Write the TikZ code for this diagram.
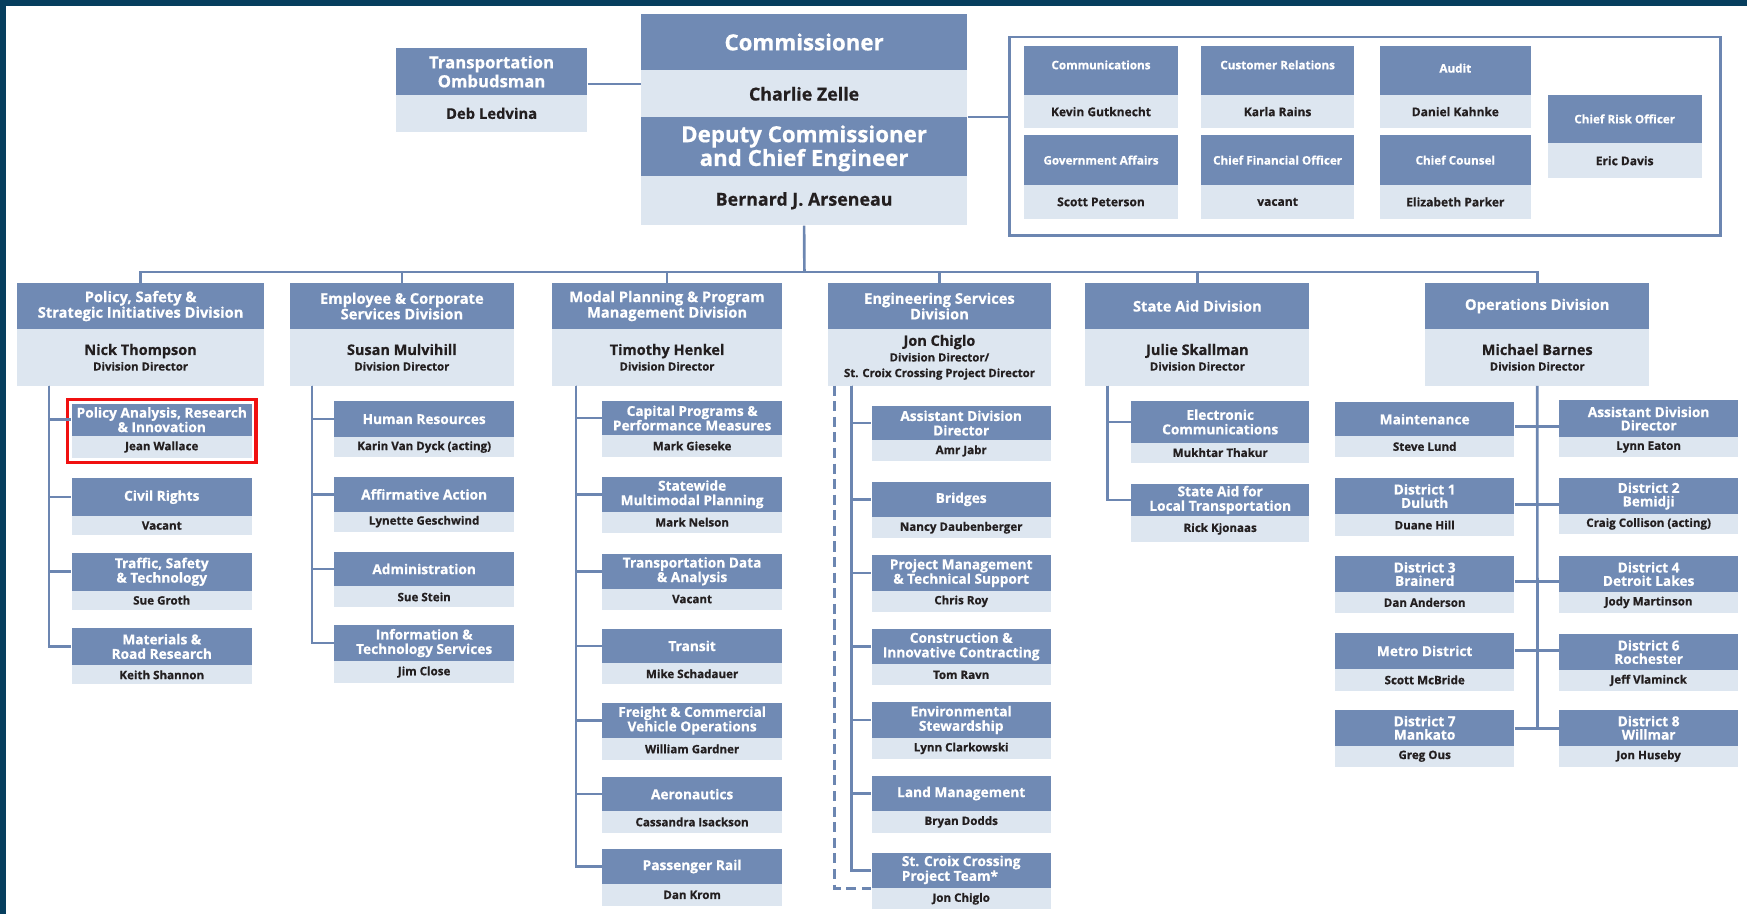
\documentclass[tikz,border=0pt]{standalone}
\usepackage{fontspec}
\setmainfont{Open Sans}[BoldFeatures={FakeBold=0.6}]
\usetikzlibrary{fit}
\definecolor{hdc}{RGB}{112,138,180}
\definecolor{bdc}{RGB}{221,230,240}
\definecolor{lnc}{RGB}{108,134,177}
\definecolor{navy}{RGB}{6,62,94}
\definecolor{txt}{RGB}{35,31,32}
\definecolor{hlred}{RGB}{240,16,16}
\newcommand\up[2]{\raisebox{#1}[\height][\depth]{#2}}
\newcommand\ob[8]{%
  \node[hd,minimum width={#3-#2},minimum height={#5-#4}] (#1-h) at (#2,#4) {#7};
  \node[bd,minimum width={#3-#2},minimum height={#6-#5}] (#1-b) at (#2,#5) {#8};
}
\tikzset{
  hd/.style={fill=hdc,text=white,inner sep=0pt,align=center,anchor=north west,
    font=\bfseries\fontsize{12.3}{13}\selectfont},
  bd/.style={fill=bdc,text=txt,inner sep=0pt,align=center,anchor=north west,
    font=\bfseries\fontsize{10.4}{11}\selectfont},
  ln/.style={draw=lnc,line width=2.4pt},
}
\begin{document}
\begin{tikzpicture}[x=1pt,y=-1pt]
\useasboundingbox (0,0) rectangle (1568,820);
\fill[navy] (0,0) rectangle (1568,5);
\fill[navy] (0,0) rectangle (5,820);

% top block
\node[hd,font=\bfseries\fontsize{20}{20}\selectfont,minimum width=293,minimum height=51] (com-h) at (575,12) {Commissioner};
\node[bd,font=\bfseries\fontsize{16}{16}\selectfont,minimum width=293,minimum height=42] (com-b) at (575,63) {Charlie Zelle};
\node[hd,font=\bfseries\fontsize{20}{20}\selectfont,minimum width=293,minimum height=53] (dep-h) at (575,105) {\up{-2pt}{\begin{tabular}{@{}c@{}}Deputy Commissioner\\and Chief Engineer\end{tabular}}};
\node[bd,font=\bfseries\fontsize{16}{16}\selectfont,minimum width=293,minimum height=44] (dep-b) at (575,158) {Bernard J. Arseneau};

\node[hd,font=\bfseries\fontsize{15}{17}\selectfont,minimum width=172,minimum height=42] (omb-h) at (355,43) {Transportation\\Ombudsman};
\node[bd,font=\bfseries\fontsize{13.3}{14}\selectfont,minimum width=172,minimum height=33] (omb-b) at (355,85) {Deb Ledvina};

% staff frame
\node[draw=lnc,line width=2.5pt,minimum width=638,minimum height=178,anchor=north west,inner sep=0pt] (staff) at (905,32) {};
\begin{scope}[hd/.append style={font=\bfseries\fontsize{10.5}{11}\selectfont},
              bd/.append style={font=\bfseries\fontsize{10.8}{12}\selectfont}]
\ob{comm}{919}{1057}{41}{85}{115}{\up{5pt}{Communications}}{Kevin Gutknecht}
\ob{cust}{1078}{1215}{41}{85}{115}{\up{5pt}{Customer Relations}}{Karla Rains}
\ob{aud}{1238}{1374}{41}{85}{115}{\up{2pt}{Audit}}{Daniel Kahnke}
\ob{risk}{1389}{1527}{85}{128}{160}{Chief Risk Officer}{Eric Davis}
\ob{gov}{919}{1057}{121}{166}{196}{Government Affairs}{Scott Peterson}
\ob{cfo}{1078}{1215}{121}{166}{196}{Chief Financial Officer}{vacant}
\ob{cc}{1238}{1374}{121}{166}{196}{Chief Counsel}{Elizabeth Parker}
\end{scope}

% divisions
\begin{scope}[hd/.append style={font=\bfseries\fontsize{13.2}{14}\selectfont},
              bd/.append style={font=\bfseries\fontsize{10.2}{14}\selectfont}]
\ob{psd}{15}{237}{254}{295}{346}{Policy, Safety \&\\Strategic Initiatives Division}{{\fontsize{13}{14}\selectfont Nick Thompson}\\Division Director}
\ob{ecs}{260}{461}{254}{295}{346}{Employee \& Corporate\\Services Division}{{\fontsize{13}{14}\selectfont Susan Mulvihill}\\Division Director}
\ob{mpp}{495}{702}{254}{295}{346}{Modal Planning \& Program\\Management Division}{{\fontsize{13}{14}\selectfont Timothy Henkel}\\Division Director}
\ob{esd}{743}{943}{254}{295}{346}{Engineering Services\\Division}{{\fontsize{13}{14}\selectfont Jon Chiglo}\\Division Director/\\St. Croix Crossing Project Director}
\ob{sad}{974}{1175}{254}{295}{346}{State Aid Division}{{\fontsize{13}{14}\selectfont Julie Skallman}\\Division Director}
\ob{ops}{1279}{1480}{254}{295}{346}{Operations Division}{{\fontsize{13}{14}\selectfont Michael Barnes}\\Division Director}
\end{scope}

% policy units
\ob{pa}{64}{226}{362}{391}{411}{Policy Analysis, Research\\\& Innovation}{Jean Wallace}
\ob{cr}{64}{226}{429}{463}{480}{Civil Rights}{Vacant}
\ob{tst}{64}{226}{496}{530}{547}{Traffic, Safety\\\& Technology}{Sue Groth}
\ob{mrr}{64}{226}{563}{597}{614}{Materials \&\\Road Research}{Keith Shannon}
% employee units
\ob{hr}{300}{461}{360}{392}{410}{Human Resources}{Karin Van Dyck (acting)}
\ob{aa}{300}{461}{428}{459}{477}{Affirmative Action}{Lynette Geschwind}
\ob{adm}{300}{461}{495}{526}{545}{Administration}{Sue Stein}
\ob{its}{300}{461}{561}{593}{613}{Information \&\\Technology Services}{Jim Close}
% modal units
\ob{cap}{540}{702}{360}{390}{410}{Capital Programs \&\\Performance Measures}{Mark Gieseke}
\ob{sw}{540}{702}{428}{459}{478}{Statewide\\Multimodal Planning}{Mark Nelson}
\ob{tda}{540}{702}{497}{528}{547}{Transportation Data\\\& Analysis}{Vacant}
\ob{tr}{540}{702}{564}{595}{614}{Transit}{Mike Schadauer}
\ob{fr}{540}{702}{631}{662}{682}{Freight \& Commercial\\Vehicle Operations}{William Gardner}
\ob{aer}{540}{702}{697}{728}{747}{Aeronautics}{Cassandra Isackson}
\ob{pr}{540}{702}{762}{793}{813}{Passenger Rail}{Dan Krom}
% engineering units
\ob{ead}{782}{943}{364}{395}{414}{Assistant Division\\Director}{Amr Jabr}
\ob{br}{782}{943}{432}{464}{483}{Bridges}{Nancy Daubenberger}
\ob{pm}{782}{943}{498}{530}{549}{Project Management\\\& Technical Support}{Chris Roy}
\ob{ci}{782}{943}{564}{596}{615}{Construction \&\\Innovative Contracting}{Tom Ravn}
\ob{env}{782}{943}{630}{662}{681}{Environmental\\Stewardship}{Lynn Clarkowski}
\ob{lm}{782}{943}{696}{728}{747}{Land Management}{Bryan Dodds}
\ob{sc}{782}{943}{765}{797}{816}{\begin{tabular}{@{}l@{}}St. Croix Crossing\\Project Team*\end{tabular}}{Jon Chiglo}
% state aid units
\ob{ec}{1015}{1175}{360}{397}{415}{Electronic\\Communications}{Mukhtar Thakur}
\ob{salt}{1015}{1175}{434}{463}{486}{State Aid for\\Local Transportation}{Rick Kjonaas}
% operations units
\begin{scope}[hd/.append style={font=\bfseries\fontsize{12.3}{12}\selectfont}]
\ob{mnt}{1198}{1359}{361}{391}{410}{Maintenance}{Steve Lund}
\ob{oad}{1399}{1560}{359}{392}{410}{Assistant Division\\Director}{Lynn Eaton}
\ob{d1}{1198}{1359}{429}{461}{481}{District 1\\Duluth}{Duane Hill}
\ob{d2}{1399}{1560}{429}{461}{479}{District 2\\Bemidji}{Craig Collison (acting)}
\ob{d3}{1198}{1359}{499}{531}{550}{District 3\\Brainerd}{Dan Anderson}
\ob{d4}{1399}{1560}{499}{531}{550}{District 4\\Detroit Lakes}{Jody Martinson}
\ob{met}{1198}{1359}{568}{600}{620}{Metro District}{Scott McBride}
\ob{d6}{1399}{1560}{569}{601}{620}{District 6\\Rochester}{Jeff Vlaminck}
\ob{d7}{1198}{1359}{637}{669}{688}{District 7\\Mankato}{Greg Ous}
\ob{d8}{1399}{1560}{637}{669}{688}{District 8\\Willmar}{Jon Huseby}
\end{scope}

% highlight
\node[draw=hlred,line width=3pt,fit=(pa-h)(pa-b),inner sep=3.5pt] (hl) {};

% connectors: top
\draw[ln] (omb-h.south east) ++(0,-10) coordinate (o1) -- (o1 -| com-b.west);
\draw[ln] (dep-h.north east) -- (dep-h.north east -| staff.west);
\coordinate (bus) at (722,244);
\draw[ln] (dep-b.south) -- (bus);
\foreach \d in {psd,ecs,mpp,esd,sad,ops} \draw[ln] (bus) -| (\d-h.north);

% spines
\coordinate (psp) at (44,346);
\foreach \c in {pa,cr,tst,mrr} \draw[ln] (psp) |- (\c-h.west);
\coordinate (esp) at (280,346);
\foreach \c in {hr,aa,adm,its} \draw[ln] (esp) |- (\c-h.west);
\coordinate (msp) at (517,346);
\foreach \c in {cap,sw,tda,tr,fr,aer,pr} \draw[ln] (msp) |- (\c-h.west);
\coordinate (gsp) at (764,346);
\foreach \c in {ead,br,pm,ci,env,lm,sc} \draw[ln] (gsp) |- (\c-h.west);
\coordinate (gdsp) at (749,346);
\draw[ln,dash pattern=on 9pt off 5pt] (gdsp) |- (sc-h.south west);
\coordinate (ssp) at (994,346);
\foreach \c in {ec,salt} \draw[ln] (ssp) |- (\c-h.west);

% operations
\coordinate (ob1) at (1380,383);
\coordinate (ob2) at (1380,453);
\coordinate (ob3) at (1380,522);
\coordinate (ob4) at (1380,584);
\coordinate (ob5) at (1380,654);
\draw[ln] (ops-b.south) -- (ob5);
\draw[ln] (mnt-h.east |- ob1) -- (oad-h.west |- ob1);
\draw[ln] (d1-h.east |- ob2) -- (d2-h.west |- ob2);
\draw[ln] (d3-h.east |- ob3) -- (d4-h.west |- ob3);
\draw[ln] (met-h.east |- ob4) -- (d6-h.west |- ob4);
\draw[ln] (d7-h.east |- ob5) -- (d8-h.west |- ob5);
\end{tikzpicture}
\end{document}
